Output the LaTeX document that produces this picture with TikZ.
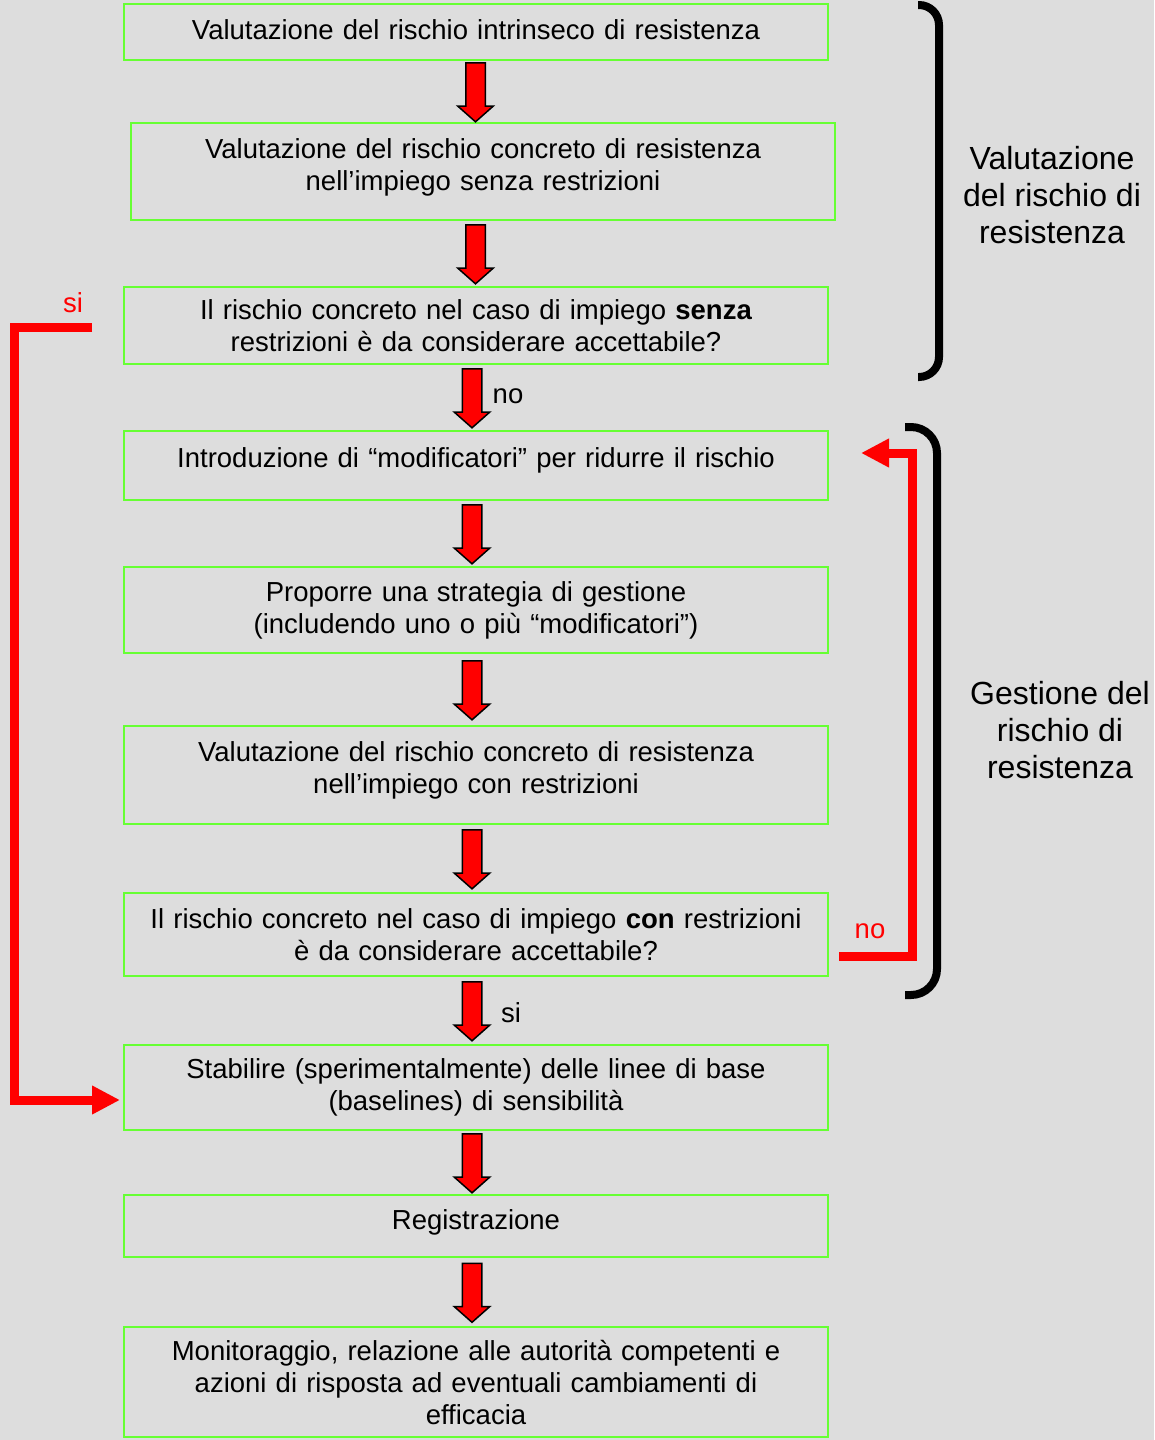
\documentclass[tikz,border=0pt]{standalone}
\usepackage{fontspec}
\setmainfont{Liberation Sans}
\usetikzlibrary{arrows.meta,positioning,calc,shapes.arrows}
\definecolor{sfondo}{HTML}{DDDDDD}
\definecolor{bordoVerde}{HTML}{66FF33}
\definecolor{rossoFreccia}{HTML}{FF0000}
\tikzset{
  casella/.style={draw=bordoVerde, line width=2pt, align=center, text width=680pt, inner xsep=12pt, inner ysep=0pt, font=\fontsize{27.5}{32}\selectfont, minimum height=#1},
  casella/.default=60pt,
  freccia/.style={single arrow, draw=black, line width=1.5pt, fill=rossoFreccia, shape border rotate=270, minimum height=59pt, minimum width=34pt, single arrow head extend=8pt, single arrow tip angle=97, inner sep=9pt, xshift=-4pt, yshift=3.5pt},
  ritorno/.style={draw=rossoFreccia, line width=9pt, -{Triangle[length=28pt, width=27pt]}},
  parentesi/.style={draw=black, line width=8pt, rounded corners=#1},
  etichetta/.style={font=\fontsize{27.5}{32}\selectfont, text=#1},
  titolo/.style={align=center, font=\fontsize{32}{37}\selectfont},
}

\begin{document}
\begin{tikzpicture}[x=1pt, y=-1pt]
\fill[sfondo] (0,0) rectangle (1154,1440);
\useasboundingbox (0,0) rectangle (1154,1440);

% Valutazione del rischio
\node[casella=56pt, text depth=5pt] (v1) at (476,32) {Valutazione del rischio intrinseco di resistenza};
\node[casella=97pt, text depth=46pt] (v2) at (483,171.5) {Valutazione del rischio concreto di resistenza\\nell’impiego senza restrizioni};
\node[casella=77pt] (v3) at (476,325.5) {Il rischio concreto nel caso di impiego \textbf{senza}\\restrizioni è da considerare accettabile?};

% Gestione del rischio
\node[casella=69pt, text depth=16pt] (v4) at (476,465.5) {Introduzione di “modificatori” per ridurre il rischio};
\node[casella=86pt] (v5) at (476,610) {Proporre una strategia di gestione\\(includendo uno o più “modificatori”)};
\node[casella=98pt, text depth=46pt] (v6) at (476,775) {Valutazione del rischio concreto di resistenza\\nell’impiego con restrizioni};
\node[casella=83pt] (v7) at (476,934.5) {Il rischio concreto nel caso di impiego \textbf{con} restrizioni\\è da considerare accettabile?};

% Fasi finali
\node[casella=85pt] (v8) at (476,1087.5) {Stabilire (sperimentalmente) delle linee di base\\(baselines) di sensibilità};
\node[casella=62pt, text depth=12pt] (v9) at (476,1226) {Registrazione};
\node[casella=110pt] (v10) at (476,1382) {Monitoraggio, relazione alle autorità competenti e\\azioni di risposta ad eventuali cambiamenti di\\efficacia};

% Frecce in giù
\node[freccia] (f1) at ($(v1.south)!.5!(v2.north)$) {};
\node[freccia] (f2) at ($(v2.south)!.5!(v3.north)$) {};
\node[freccia] (f3) at ($(v3.south)!.5!(v4.north)$) {};
\node[freccia] (f4) at ($(v4.south)!.5!(v5.north)$) {};
\node[freccia] (f5) at ($(v5.south)!.5!(v6.north)$) {};
\node[freccia] (f6) at ($(v6.south)!.5!(v7.north)$) {};
\node[freccia] (f7) at ($(v7.south)!.5!(v8.north)$) {};
\node[freccia] (f8) at ($(v8.south)!.5!(v9.north)$) {};
\node[freccia] (f9) at ($(v9.south)!.5!(v10.north)$) {};
\node[etichetta=black] (noGiu) at (508,396) {no};
\node[etichetta=black] (siGiu) at (511,1013) {si};

% Ritorni
\draw[ritorno] ([shift={(-31,1.5)}]v3.west) -- ++(-77.5,0) |- ([shift={(-3,12.5)}]v8.west);
\node[etichetta=rossoFreccia] (siSx) at (73,303) {si};
\draw[ritorno] ([shift={(10,21.5)}]v7.east) -- ++(73.5,0) |- ([shift={(32,-12.5)}]v4.east);
\node[etichetta=rossoFreccia] (noDx) at (870,931) {no};

% Parentesi e titoli
\draw[parentesi=20pt] (918,5) -- (939,5) -- (939,377) -- (918,377);
\node[titolo] (tValutazione) at (1052,195) {Valutazione\\del rischio di\\resistenza};
\draw[parentesi=26pt] (905,427) -- (937,427) -- (937,995) -- (905,995);
\node[titolo] (tGestione) at (1060,730) {Gestione del\\rischio di\\resistenza};
\end{tikzpicture}
\end{document}
